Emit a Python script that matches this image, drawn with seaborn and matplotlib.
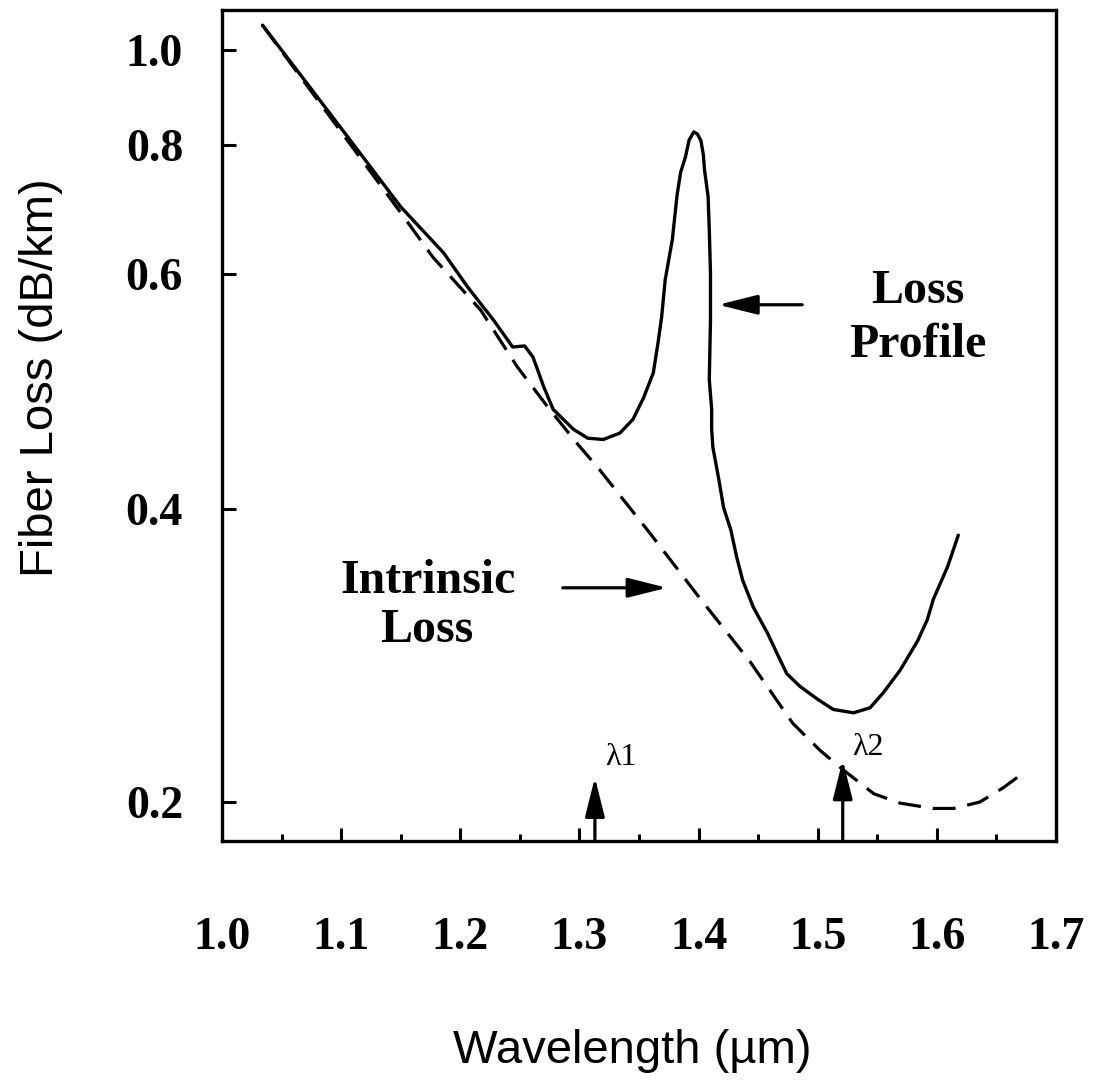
import numpy as np
import pandas as pd
import matplotlib
matplotlib.use("Agg")
import matplotlib.pyplot as plt
import seaborn as sns
from matplotlib.ticker import FixedLocator, NullLocator

# ---------------- data ----------------
LOSS_WL = [1.034, 1.066, 1.108, 1.150, 1.186, 1.206, 1.228, 1.244, 1.254, 1.261,
           1.270, 1.278, 1.295, 1.307, 1.320, 1.334, 1.345, 1.354, 1.362, 1.366,
           1.369, 1.372, 1.378, 1.382, 1.385, 1.389, 1.392, 1.396, 1.399, 1.402,
           1.404, 1.405, 1.408, 1.409, 1.410, 1.410, 1.409, 1.411, 1.411, 1.412,
           1.417, 1.421, 1.427, 1.432, 1.437, 1.446, 1.458, 1.466, 1.474, 1.485,
           1.500, 1.513, 1.530, 1.544, 1.555, 1.569, 1.584, 1.592, 1.597, 1.609,
           1.618]
LOSS_DB = [1.060, 0.943, 0.808, 0.697, 0.629, 0.587, 0.554, 0.529, 0.530, 0.520,
           0.494, 0.475, 0.459, 0.452, 0.451, 0.456, 0.467, 0.485, 0.506, 0.533,
           0.557, 0.594, 0.648, 0.716, 0.753, 0.779, 0.809, 0.825, 0.821, 0.808,
           0.783, 0.757, 0.713, 0.662, 0.601, 0.554, 0.500, 0.475, 0.459, 0.445,
           0.421, 0.401, 0.381, 0.357, 0.338, 0.317, 0.298, 0.284, 0.271, 0.263,
           0.255, 0.249, 0.247, 0.250, 0.259, 0.273, 0.293, 0.308, 0.323, 0.349,
           0.376]

INTRINSIC_WL = [1.034, 1.150, 1.177, 1.217, 1.248, 1.275, 1.298, 1.317, 1.359, 1.401,
                1.443, 1.479, 1.502, 1.521, 1.547, 1.569, 1.597, 1.614, 1.636, 1.656,
                1.672]
INTRINSIC_DB = [1.060, 0.688, 0.623, 0.564, 0.511, 0.475, 0.448, 0.428, 0.378, 0.324,
                0.279, 0.241, 0.226, 0.216, 0.204, 0.1995, 0.197, 0.197, 0.200, 0.207,
                0.214]

X_TICKS = [1.0, 1.1, 1.2, 1.3, 1.4, 1.5, 1.6, 1.7]
X_LABELS = ["1.0", "1.1", "1.2", "1.3", "1.4", "1.5", "1.6", "1.7"]
X_MINOR = [1.05, 1.15, 1.25, 1.35, 1.45, 1.55, 1.65]
Y_TICKS = [0.2, 0.4, 0.6, 0.8, 1.0]
Y_LABELS = ["0.2", "0.4", "0.6", "0.8", "1.0"]

LAMBDA1 = 1.313
LAMBDA2 = 1.521
LAMBDA1_TIP = 0.212
LAMBDA2_TIP = 0.221
PROFILE_ARROW = (1.487, 1.4165, 0.569)   # from, to, level
INTRINSIC_ARROW = (1.286, 1.3736, 0.332)

# ---------------- hand-drawn vertical scale of the original ----------------
_SCALE_LOG = np.log10([0.2, 0.4, 0.6, 0.8, 1.0])
_SCALE_POS = np.array([0.0, 293.0, 528.0, 657.0, 752.0])


def _pw(v, xs, ys):
    v = np.asarray(v, dtype=float)
    out = np.interp(v, xs, ys)
    s0 = (ys[1] - ys[0]) / (xs[1] - xs[0])
    s1 = (ys[-1] - ys[-2]) / (xs[-1] - xs[-2])
    out = np.where(v < xs[0], ys[0] + (v - xs[0]) * s0, out)
    out = np.where(v > xs[-1], ys[-1] + (v - xs[-1]) * s1, out)
    return out


def _fwd(y):
    y = np.clip(np.asarray(y, dtype=float), 1e-9, None)
    return _pw(np.log10(y), _SCALE_LOG, _SCALE_POS)


def _inv(u):
    return 10.0 ** _pw(u, _SCALE_POS, _SCALE_LOG)


# ---------------- style ----------------
sns.set_style("white")
plt.rcParams.update({
    "font.family": ["Liberation Serif", "DejaVu Serif"],
    "axes.edgecolor": "black",
    "axes.linewidth": 2.4,
    "axes.labelcolor": "black",
    "text.color": "black",
    "xtick.color": "black",
    "ytick.color": "black",
    "xtick.bottom": True,
    "ytick.left": True,
    "lines.scale_dashes": False,
})

fig = plt.figure(figsize=(10.95, 10.86), dpi=100)
ax = fig.add_axes([0.2027, 0.2256, 0.7617, 0.7652])

loss_df = pd.DataFrame({"wl": LOSS_WL, "db": LOSS_DB})
intr_df = pd.DataFrame({"wl": INTRINSIC_WL, "db": INTRINSIC_DB})

sns.lineplot(data=intr_df, x="wl", y="db", sort=False, estimator=None,
             color="black", lw=2.3, linestyle=(0, (16.5, 8.6)), ax=ax)
sns.lineplot(data=loss_df, x="wl", y="db", sort=False, estimator=None,
             color="black", lw=2.4, ax=ax)

ax.set_yscale("function", functions=(_fwd, _inv))
ax.set_xlim(1.0, 1.7)
ax.set_ylim(0.1824, 1.0985)

ax.xaxis.set_major_locator(FixedLocator(X_TICKS))
ax.xaxis.set_minor_locator(FixedLocator(X_MINOR))
ax.set_xticklabels(X_LABELS)
ax.yaxis.set_major_locator(FixedLocator(Y_TICKS))
ax.yaxis.set_minor_locator(NullLocator())
ax.set_yticklabels(Y_LABELS)

ax.tick_params(axis="x", which="major", direction="in", length=9.4, width=2.2,
               pad=55, labelsize=33, bottom=True, top=False, color="black",
               labelcolor="black")
ax.tick_params(axis="x", which="minor", direction="in", length=5, width=2.2,
               bottom=True, top=False, color="black")
ax.tick_params(axis="y", which="major", direction="in", length=10, width=2.2,
               pad=28, labelsize=33, left=True, right=False, color="black",
               labelcolor="black")
for lab in ax.get_xticklabels() + ax.get_yticklabels():
    lab.set_fontweight("bold")
    lab.set_family(["Liberation Serif", "DejaVu Serif"])

for sp in ax.spines.values():
    sp.set_visible(True)
    sp.set_color("black")
    sp.set_linewidth(2.4)

# axis labels
ax.set_xlabel("Wavelength (\u00b5m)", fontsize=34, color="black",
              family=["Liberation Sans", "DejaVu Sans"])
ax.xaxis.set_label_coords(0.4916, -0.267)
ax.xaxis.label.set_verticalalignment("baseline")
ax.set_ylabel("Fiber Loss (dB/km)", fontsize=34, color="black",
              family=["Liberation Sans", "DejaVu Sans"])
ax.yaxis.set_label_coords(-0.217, 0.557)
ax.yaxis.label.set_verticalalignment("center")

# annotations
arrow_kw = dict(arrowstyle="-|>,head_length=2.4,head_width=0.6", mutation_scale=10,
                lw=2.3, color="black", shrinkA=0, shrinkB=0)

ax.annotate("", xy=(PROFILE_ARROW[1], PROFILE_ARROW[2]),
            xytext=(PROFILE_ARROW[0], PROFILE_ARROW[2]), arrowprops=arrow_kw)
ax.annotate("", xy=(INTRINSIC_ARROW[1], INTRINSIC_ARROW[2]),
            xytext=(INTRINSIC_ARROW[0], INTRINSIC_ARROW[2]), arrowprops=arrow_kw)
ax.annotate("", xy=(LAMBDA1, LAMBDA1_TIP), xycoords="data",
            xytext=(LAMBDA1, 0.0), textcoords=("data", "axes fraction"), arrowprops=arrow_kw)
ax.annotate("", xy=(LAMBDA2, LAMBDA2_TIP), xycoords="data",
            xytext=(LAMBDA2, 0.0), textcoords=("data", "axes fraction"), arrowprops=arrow_kw)

txt_kw = dict(transform=ax.transAxes, ha="center", va="baseline",
              fontsize=34.5, fontweight="bold", color="black")
ax.text(0.8345, 0.6474, "Loss", **txt_kw)
ax.text(0.8345, 0.5824, "Profile", **txt_kw)
ax.text(0.247, 0.2984, "Intrinsic", **txt_kw)
ax.text(0.2458, 0.2395, "Loss", **txt_kw)

ax.text(0.478, 0.101, "\u03bb1", transform=ax.transAxes, ha="center", va="center",
        fontsize=23, color="black")
ax.text(0.7746, 0.1131, "\u03bb2", transform=ax.transAxes, ha="center", va="center",
        fontsize=23, color="black")

fig.savefig("out.png", dpi=100, facecolor="white")
